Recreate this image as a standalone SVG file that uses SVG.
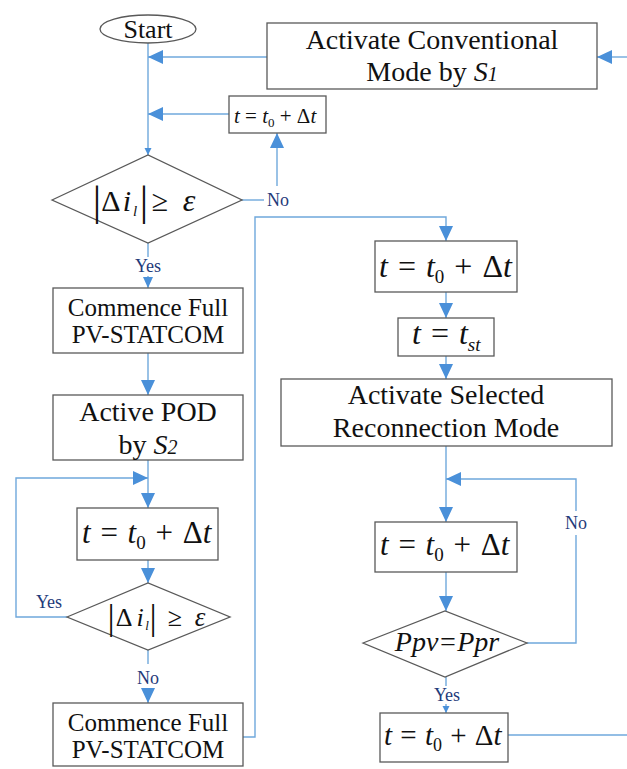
<svg xmlns="http://www.w3.org/2000/svg" width="627" height="769" viewBox="0 0 627 769">
<style>
.box{fill:#fff;stroke:#595959;stroke-width:1.3}
.ln{fill:none;stroke:#6fa8dc;stroke-width:1.4}
text{font-family:'Liberation Serif','DejaVu Serif','Tinos',serif}
.t{fill:#111;text-anchor:middle}
.m{fill:#111}
.c{fill:#111;text-anchor:middle}
.i{font-style:italic}
.lbl{fill:#1f3b7a;font-size:18px;text-anchor:middle}
</style>
<defs>
<marker id="ab" markerUnits="userSpaceOnUse" markerWidth="16" markerHeight="16" refX="15" refY="7" orient="auto"><path d="M0,0 L15,7 L0,14 z" fill="#4a90d9"/></marker>
<marker id="am" markerUnits="userSpaceOnUse" markerWidth="12" markerHeight="12" refX="11" refY="5" orient="auto"><path d="M0,0 L11,5 L0,10 z" fill="#4a90d9"/></marker>
<marker id="as" markerUnits="userSpaceOnUse" markerWidth="8" markerHeight="8" refX="7" refY="3.5" orient="auto"><path d="M0,0 L7,3.5 L0,7 z" fill="#4a90d9"/></marker>
</defs>

<g id="connectors">
<path class="ln" d="M148,43 V155" marker-end="url(#as)"/>
<path class="ln" d="M267,57 H148" marker-end="url(#ab)"/>
<path class="ln" d="M627,57 H597" marker-end="url(#ab)"/>
<path class="ln" d="M229,114 H148" marker-end="url(#ab)"/>
<path class="ln" d="M242,200 H264"/>
<path class="ln" d="M277,186 V133" marker-end="url(#ab)"/>
<path class="ln" d="M148,243 V257"/>
<path class="ln" d="M148,276 V288" marker-end="url(#am)"/>
<path class="ln" d="M148,353 V395" marker-end="url(#ab)"/>
<path class="ln" d="M148,460 V508" marker-end="url(#ab)"/>
<path class="ln" d="M67,617 H16 V478 H148" marker-end="url(#ab)"/>
<path class="ln" d="M148,560 V583" marker-end="url(#ab)"/>
<path class="ln" d="M148,650 V664"/>
<path class="ln" d="M148,688 V703" marker-end="url(#ab)"/>
<path class="ln" d="M243,737 H255 V217 H446 V241" marker-end="url(#ab)"/>
<path class="ln" d="M446,292 V318" marker-end="url(#ab)"/>
<path class="ln" d="M446,356 V379" marker-end="url(#ab)"/>
<path class="ln" d="M446,446 V522" marker-end="url(#ab)"/>
<path class="ln" d="M527,643 H576 V535"/>
<path class="ln" d="M576,511 V479 H446" marker-end="url(#ab)"/>
<path class="ln" d="M446,572 V611" marker-end="url(#ab)"/>
<path class="ln" d="M446,677 V686"/>
<path class="ln" d="M446,704 V713" marker-end="url(#as)"/>
<path class="ln" d="M508,735 H627"/>
<text class="lbl" x="278" y="206">No</text>
<text class="lbl" x="148" y="272">Yes</text>
<text class="lbl" x="49" y="608">Yes</text>
<text class="lbl" x="148" y="684">No</text>
<text class="lbl" x="576" y="529">No</text>
<text class="lbl" x="447" y="701">Yes</text>
</g>

<g id="start">
<ellipse cx="148" cy="29" rx="48" ry="14" fill="#fff" stroke="#595959" stroke-width="1.3"/>
<text class="t" x="148" y="38" font-size="26">Start</text>
</g>

<g id="conventional">
<rect class="box" x="267" y="23" width="330" height="66"/>
<text class="t" x="432" y="49" font-size="28">Activate Conventional</text>
<text class="t" x="432" y="81" font-size="28">Mode by <tspan class="i">S</tspan><tspan class="i" font-size="20">1</tspan></text>
</g>

<g id="step-top">
<rect class="box" x="229" y="96" width="97" height="37"/>
<text class="m" x="234" y="123" font-size="21"><tspan class="i">t</tspan> = <tspan class="i">t</tspan><tspan font-size="13" dy="4">0</tspan><tspan dy="-4"> + Δ</tspan><tspan class="i">t</tspan></text>
</g>

<g id="decision-1">
<polygon class="box" points="52,200 148,155 242,200 148,243"/>
<text class="c" x="97" y="215" font-size="42">|</text>
<text class="c" x="111" y="211" font-size="30">Δ</text>
<text class="c i" x="127" y="211" font-size="30">i</text>
<text class="c i" x="135" y="216" font-size="15">l</text>
<text class="c" x="144" y="215" font-size="42">|</text>
<text class="c" x="160" y="211" font-size="30">≥</text>
<text class="c i" x="189" y="211" font-size="32">ε</text>
</g>

<g id="commence-1">
<rect class="box" x="53" y="288" width="190" height="65"/>
<text class="t" x="148" y="316" font-size="25">Commence Full</text>
<text class="t" x="148" y="343" font-size="25">PV-STATCOM</text>
</g>

<g id="active-pod">
<rect class="box" x="53" y="395" width="190" height="65"/>
<text class="t" x="148" y="421" font-size="28">Active POD</text>
<text class="t" x="148" y="454" font-size="28">by <tspan class="i">S</tspan><tspan class="i" font-size="20">2</tspan></text>
</g>

<g id="step-left">
<rect class="box" x="77" y="508" width="141" height="52"/>
<text class="m" x="82" y="543" font-size="31" word-spacing="2"><tspan class="i">t</tspan> = <tspan class="i">t</tspan><tspan font-size="19" dy="6">0</tspan><tspan dy="-6"> + Δ</tspan><tspan class="i">t</tspan></text>
</g>

<g id="decision-2">
<polygon class="box" points="67,617 148,583 230,617 148,650"/>
<text class="c" x="111" y="629" font-size="36">|</text>
<text class="c" x="124" y="626" font-size="26">Δ</text>
<text class="c i" x="140" y="626" font-size="26">i</text>
<text class="c i" x="147" y="630" font-size="13">l</text>
<text class="c" x="153" y="629" font-size="36">|</text>
<text class="c" x="175" y="626" font-size="26">≥</text>
<text class="c i" x="200" y="626" font-size="27">ε</text>
</g>

<g id="commence-2">
<rect class="box" x="53" y="703" width="190" height="63"/>
<text class="t" x="148" y="731" font-size="25">Commence Full</text>
<text class="t" x="148" y="758" font-size="25">PV-STATCOM</text>
</g>

<g id="step-right-1">
<rect class="box" x="375" y="241" width="142" height="51"/>
<text class="m" x="379" y="277" font-size="32" word-spacing="2"><tspan class="i">t</tspan> = <tspan class="i">t</tspan><tspan font-size="19" dy="6">0</tspan><tspan dy="-6"> + Δ</tspan><tspan class="i">t</tspan></text>
</g>

<g id="step-tst">
<rect class="box" x="398" y="318" width="96" height="38"/>
<text class="m" x="412" y="344" font-size="32" word-spacing="2"><tspan class="i">t</tspan> = <tspan class="i">t</tspan><tspan class="i" font-size="19" dy="7">st</tspan></text>
</g>

<g id="activate-selected">
<rect class="box" x="281" y="379" width="331" height="67"/>
<text class="t" x="446" y="404" font-size="28">Activate Selected</text>
<text class="t" x="446" y="437" font-size="28">Reconnection Mode</text>
</g>

<g id="step-right-2">
<rect class="box" x="375" y="522" width="142" height="50"/>
<text class="m" x="380" y="555" font-size="31" word-spacing="2"><tspan class="i">t</tspan> = <tspan class="i">t</tspan><tspan font-size="19" dy="6">0</tspan><tspan dy="-6"> + Δ</tspan><tspan class="i">t</tspan></text>
</g>

<g id="decision-3">
<polygon class="box" points="363,643 445,611 527,643 445,677"/>
<text class="t i" x="447" y="651" font-size="28">Ppv=Ppr</text>
</g>

<g id="step-right-3">
<rect class="box" x="380" y="713" width="128" height="49"/>
<text class="m" x="384" y="745" font-size="29" word-spacing="1"><tspan class="i">t</tspan> = <tspan class="i">t</tspan><tspan font-size="18" dy="6">0</tspan><tspan dy="-6"> + Δ</tspan><tspan class="i">t</tspan></text>
</g>
</svg>
